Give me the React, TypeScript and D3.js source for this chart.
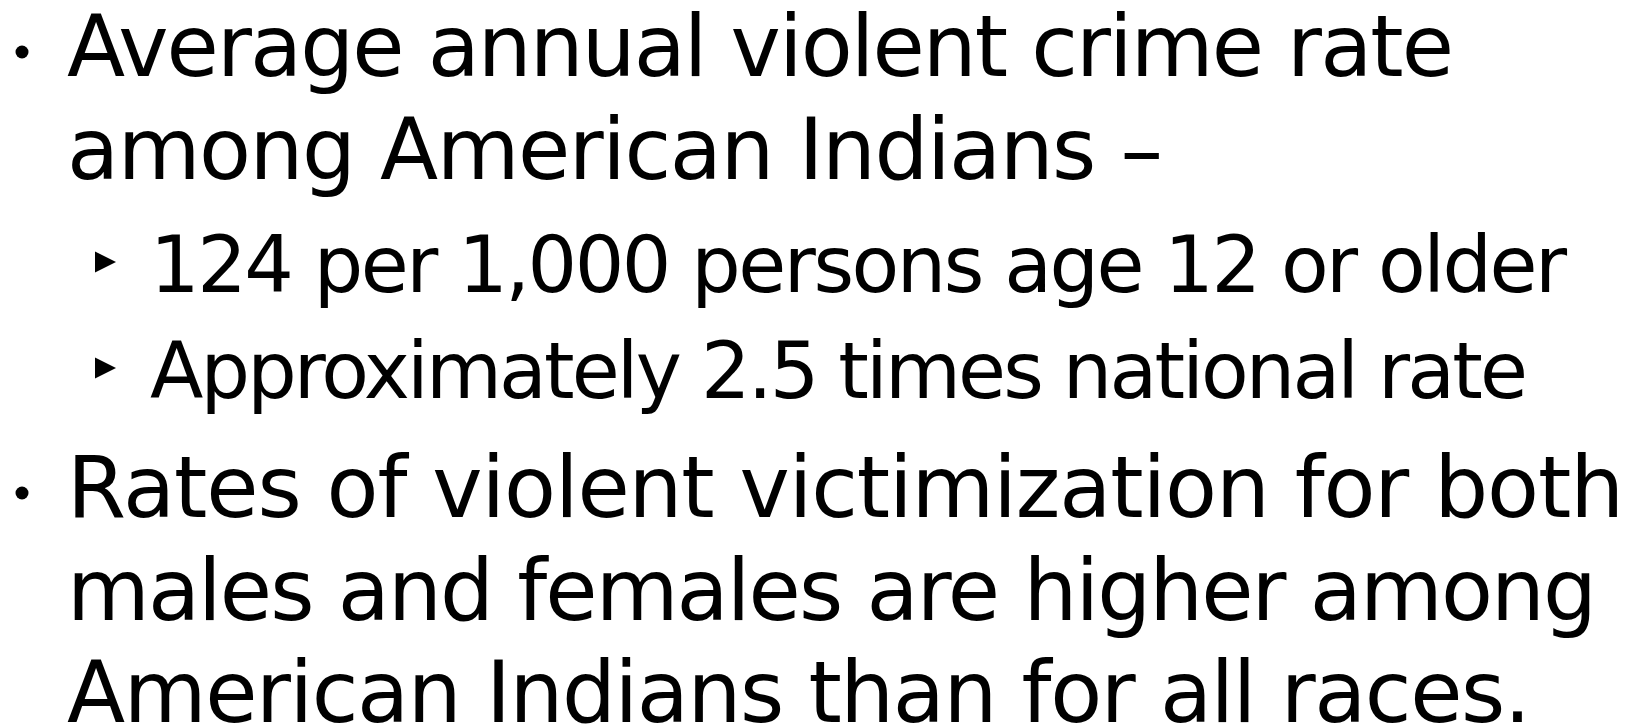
import React, {useEffect, useRef} from 'react';
import * as d3 from 'd3';

const W = 1644;
const H = 725;

// slide text, one entry per rendered line
const lineTexts = [
  'Average annual violent crime rate',
  'among American Indians \u2013',
  '124 per 1,000 persons age 12 or older',
  'Approximately 2.5 times national rate',
  'Rates of violent victimization for both',
  'males and females are higher among',
  'American Indians than for all races.',
];
const lineLevels = [1, 1, 2, 2, 1, 1, 1];
const lineBullets = [true, false, true, true, true, false, false];
// right edge of each line
const lineEnds = [1454, 1163, 1567, 1528, 1624, 1597, 1531];
// baselines
const lineBaselines = [76, 179, 292, 398, 517, 620, 722];

export default function App() {
  const ref = useRef<SVGSVGElement>(null);

  useEffect(() => {
    const svg = d3.select(ref.current);
    svg.selectAll('*').remove();

    const rows = lineTexts.map((t, i) => ({
      text: t,
      level: lineLevels[i],
      bullet: lineBullets[i],
      end: lineEnds[i],
      y: lineBaselines[i],
    }));

    const textX = (lvl: number) => (lvl === 1 ? 67 : 150);
    const fontSize = (lvl: number) => (lvl === 1 ? 85 : 78);

    svg
      .selectAll('text.line')
      .data(rows)
      .join('text')
      .attr('class', 'line')
      .attr('x', d => textX(d.level))
      .attr('y', d => d.y)
      .attr('textLength', d => d.end - textX(d.level))
      .attr('lengthAdjust', 'spacing')
      .style('font-family', '"DejaVu Sans", sans-serif')
      .style('font-size', d => `${fontSize(d.level)}px`)
      .attr('fill', '#000')
      .text(d => d.text);

    // round bullets for top level
    svg
      .selectAll('circle.bullet')
      .data(rows.filter(d => d.bullet && d.level === 1))
      .join('circle')
      .attr('class', 'bullet')
      .attr('cx', 22)
      .attr('cy', d => d.y - 24)
      .attr('r', 6.5)
      .attr('fill', '#000');

    // triangle bullets for sub items
    svg
      .selectAll('path.sub')
      .data(rows.filter(d => d.bullet && d.level === 2))
      .join('path')
      .attr('class', 'sub')
      .attr('d', d => {
        const cy = d.y - 30;
        return d3.line()([
          [95, cy - 10.5],
          [116, cy],
          [95, cy + 10.5],
        ]) + 'Z';
      })
      .attr('fill', '#000');
  }, []);

  return (
    <svg
      ref={ref}
      width={W}
      height={H}
      style={{position: 'absolute', left: 0, top: 0, background: '#fff'}}
    />
  );
}
